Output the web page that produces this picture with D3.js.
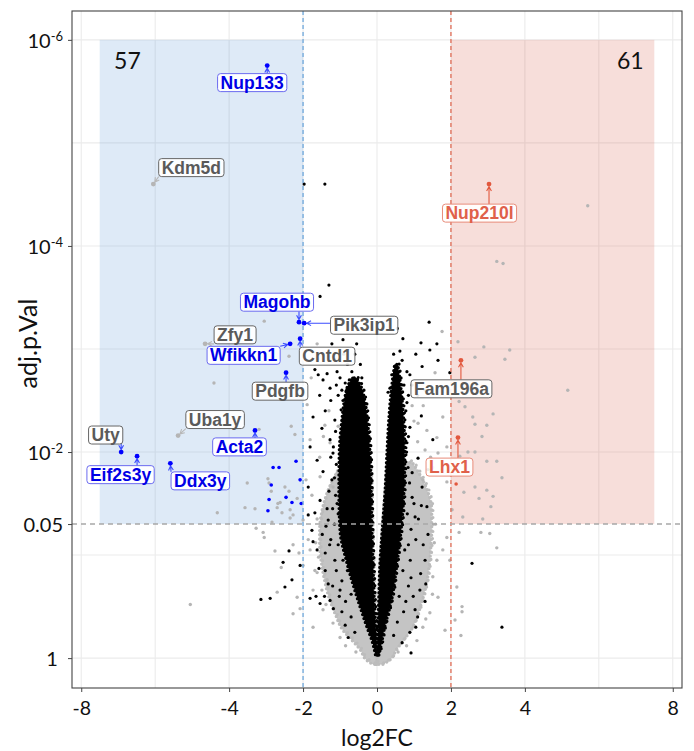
<!DOCTYPE html>
<html>
<head>
<meta charset="utf-8">
<script src="https://cdn.jsdelivr.net/npm/d3@7"></script>
<style>
  body { margin: 0; background: #fff; }
  svg { display: block; }
</style>
</head>
<body>
<svg id="chart" width="694" height="751"></svg>
<script>
// ---------------------------------------------------------------
// Volcano plot: log2 fold change vs adjusted p-value (-log10 axis)
// Values below are log2FC and -log10(adj.p.Val)
// ---------------------------------------------------------------

// significance thresholds and shaded regions
const fcCut = 2;
const pCutNLP = 1.301;          // -log10(0.05)
const shadeFC = 7.5;
const shadeTopNLP = 6;          // -log10(1e-6)
const downCount = "57";
const upCount = "61";

// axis ticks
const xTickValues = [-8, -4, -2, 0, 2, 4, 8];
const xGridValues = [-8, -6, -4, -2, 0, 2, 4, 6, 8];
const yTickValues = [0, 1.301, 2, 4, 6];
const yTickBase = ["1\u00a0", "0.05", "10", "10", "10"];
const yTickExp = ["", "", "-2", "-4", "-6"];
const yGridValues = [0, 1, 2, 3, 4, 5, 6];

// dense core of the distribution (bounds of log2FC per -log10 p level)
const armLeftNLP = [0.03, 0.175, 0.27, 0.59, 0.92, 1.24, 1.63, 1.99, 2.31, 2.50, 2.65, 2.72];
const armLeftOut = [-0.04, -0.14, -0.24, -0.54, -0.81, -1.00, -1.03, -1.02, -0.95, -0.88, -0.78, -0.66];
const armLeftIn  = [0.00, -0.01, -0.03, -0.08, -0.11, -0.14, -0.16, -0.19, -0.26, -0.33, -0.45, -0.56];

const armRightNLP = [0.03, 0.175, 0.27, 0.59, 0.92, 1.24, 1.63, 1.99, 2.31, 2.50, 2.70, 2.85];
const armRightIn  = [0.01, 0.03, 0.03, 0.05, 0.08, 0.14, 0.22, 0.27, 0.32, 0.36, 0.42, 0.48];
const armRightOut = [0.05, 0.14, 0.19, 0.41, 0.54, 0.65, 0.73, 0.75, 0.72, 0.68, 0.62, 0.56];

const fanNLP      = [-0.06, -0.02, 0.08, 0.175, 0.27, 0.42, 0.59, 0.76, 0.92, 1.10, 1.24, 1.44, 1.63, 1.78, 1.90];
const fanLeftOut  = [-0.12, -0.28, -0.45, -0.68, -0.92, -1.12, -1.30, -1.42, -1.50, -1.55, -1.55, -1.48, -1.32, -1.12, -0.95];
const fanLeftIn   = [0.00, 0.00, -0.01, -0.02, -0.04, -0.06, -0.08, -0.10, -0.11, -0.13, -0.14, -0.15, -0.16, -0.18, -0.20];
const fanRightIn  = [0.00, 0.00, 0.01, 0.02, 0.03, 0.04, 0.05, 0.07, 0.08, 0.11, 0.14, 0.18, 0.22, 0.25, 0.27];
const fanRightOut = [0.16, 0.34, 0.52, 0.72, 0.92, 1.10, 1.25, 1.36, 1.42, 1.46, 1.48, 1.48, 1.36, 1.16, 0.95];

// individual genes outside the dense core: [log2FC, -log10 adj.p]
const greyPts = [
  [5.70,4.39],[3.24,3.85],[3.41,3.83],[1.76,3.17],[2.19,3.07],[2.89,3.02],[3.59,2.99],[2.65,2.92],
  [3.46,2.90],[5.16,2.60],[2.22,2.49],[2.38,2.44],[3.14,2.37],[2.59,2.34],[2.65,2.27],[2.97,2.26],
  [2.84,2.15],[2.46,2.00],[2.65,2.00],[2.24,1.96],[3.24,1.91],[2.97,1.91],[3.38,1.75],[2.65,1.66],
  [2.97,1.63],[2.35,1.61],[3.14,1.57],[2.76,1.55],[3.08,1.47],[2.32,1.37],[2.86,1.35],[2.81,1.22],
  [3.05,1.21],[2.22,1.22],[3.24,1.07],[2.30,0.50],[2.30,0.45],[2.27,0.22],[2.11,0.37],[1.57,2.77],
  [-3.05,3.27],[-4.41,2.67],[-2.38,2.93],[-3.19,2.22],[-2.32,2.25],[-2.22,2.17],[-3.51,1.70],
  [-2.95,1.74],[-2.92,1.70],[-2.86,1.62],[-2.49,1.66],[-2.38,1.62],[-4.32,1.41],[-3.57,1.46],
  [-3.30,1.45],[-2.68,1.50],[-2.57,1.41],[-2.27,1.39],[-2.35,1.36],[-2.62,1.51],[-2.16,1.55],
  [-2.35,1.44],[-2.70,1.46],[-2.84,1.32],[-3.08,1.22],[-3.27,1.26],[-3.05,1.17],[-2.76,1.04],
  [-2.27,1.10],[-2.59,0.88],[-2.00,0.90],[-2.70,0.64],[-2.16,0.59],[-5.05,0.52],[-2.08,0.48],
  [-2.27,0.43],[-2.11,1.02],[-1.86,1.15],[-1.73,0.66],[-1.62,0.83],[-1.35,0.76],[-1.78,2.72],
  [-1.89,2.46],[-1.62,3.05],[-1.81,2.12],[-1.41,2.26],[-1.27,2.09],[-1.54,1.76],[-1.76,1.58],
  [-1.19,1.66],[1.11,2.28],[1.35,2.21],[1.62,2.14],[1.78,2.34],[1.30,2.02],[1.65,1.99],[1.89,2.05],
  [1.51,1.85],[1.76,1.83],[1.24,1.73],[1.89,1.71],[-1.81,1.05],[-1.68,0.85],[-1.49,0.66],
  [-1.46,0.47],[-1.19,0.34],[-1.00,0.20],[-1.73,0.30],[1.62,0.95],[1.51,0.79],[1.65,0.59],
  [1.43,0.44],[1.24,0.30],[1.08,0.17],[1.89,1.17],[1.78,1.05],[2.16,0.69],[1.84,0.27],
  [-0.57,0.06],[0.57,0.06],[-2.00,1.34],[-1.92,1.73],[2.03,1.44],[1.97,0.95],
  [-1.30,2.40],[-1.45,2.15],[-1.05,2.25],[1.00,2.30],[1.10,2.10],[0.95,2.45],[1.25,2.45],
  [-1.55,1.95],[1.45,1.95],[-1.62,1.35],[-1.66,1.12],[1.58,1.30],[1.55,1.12],[-1.58,0.98],
  [1.50,0.62],[-1.38,0.52],[1.32,0.38],[-0.85,0.12],[0.80,0.12]
];

const blackPts = [
  [-1.97,4.60],[-1.41,4.60],[-1.30,3.62],[-1.54,3.51],[-0.92,3.09],[-1.22,3.05],[1.41,3.26],
  [0.62,2.98],[1.19,3.06],[1.62,3.05],[1.43,2.99],[1.65,2.89],[1.97,2.77],[0.81,2.78],[0.89,2.75],
  [1.22,2.83],[-1.68,2.80],[-1.59,2.75],[-1.35,2.76],[-1.46,2.70],[-1.27,2.62],[-1.08,2.78],
  [-1.00,2.72],[-0.81,2.61],[-0.73,2.53],[-0.92,2.50],[0.62,2.60],[0.54,2.53],[0.81,2.48],
  [0.43,2.49],[-2.38,1.04],[-2.54,0.93],[-2.30,0.76],[-2.49,0.69],[-2.89,0.58],[-3.14,0.57],
  [-1.73,1.13],[-1.62,1.05],[-1.81,0.58],[-1.65,0.60],[-1.54,0.53],[-1.57,0.87],[-1.86,1.39],
  [3.38,0.30],[2.57,0.92],[-2.08,0.90],[-1.73,2.34],[-1.49,2.23],[-1.81,2.05],[-1.27,2.12],
  [-1.62,1.92],[-1.19,1.99],[-1.46,1.81],[-1.86,1.66],[-1.22,1.73],[-1.54,1.53],[-1.08,1.50],
  [-1.68,1.41],[-1.32,1.34],[-1.76,1.24],[0.62,2.34],[0.89,2.24],[0.81,2.09],[1.11,1.94],
  [0.84,1.85],[1.22,1.66],[0.95,1.56],[1.35,1.47],[1.03,1.37],[1.51,2.12],[1.38,1.83],
  [0.49,2.70],[0.30,2.58],[0.73,2.65],[0.68,2.89],[0.51,2.80],[-0.86,2.67],[-0.68,2.78],
  [-0.57,2.70],[-1.05,2.55],[-0.97,2.41],[-1.14,2.31],[-0.41,2.72],[-1.27,0.56],[-1.00,0.66],
  [1.16,0.66],[1.30,0.95],[1.03,0.47],[-1.14,0.95],[-0.86,0.32],[0.89,0.25],[0.92,0.05],
  [-1.12,2.20],[-1.18,2.05],[-1.10,1.88],[-1.25,1.95],[-1.15,1.75],[-1.30,1.62],[-1.12,1.58],
  [-1.20,1.45],[-1.38,1.28],[-1.15,1.30],[-1.25,1.15],[-1.05,1.10],[-1.40,1.02],[-1.10,0.85],
  [-0.95,0.75],[-1.20,0.70],[-0.85,0.55],[-0.70,0.40],[-0.95,0.45],[-0.60,0.25],
  [0.85,2.15],[0.80,2.00],[0.95,1.80],[0.88,1.70],[1.00,1.50],[0.82,1.40],[0.92,1.25],
  [1.05,1.15],[0.75,1.05],[0.90,0.95],[0.70,0.85],[0.85,0.70],[0.60,0.60],[0.72,0.45],
  [0.55,0.35],[0.45,0.22],[-0.85,2.45],[-0.62,2.62],[-0.50,2.58],[-0.75,2.70],[-0.95,2.60],
  [-0.45,2.85],[-0.60,2.95],[0.40,2.75],[0.58,2.72],[0.45,2.95],[0.62,2.55],[0.78,2.40],[0.35,2.62],
  [-1.35,1.45],[-1.28,1.10],[-1.40,0.85],[-1.02,0.60],[-1.18,0.48],[-0.78,0.20],[-1.32,0.72],
  [-0.92,0.95],[-1.48,1.20],[-0.88,1.25],[-1.05,1.40],[-1.42,0.60],[-0.70,0.62],[-0.80,0.85],
  [1.12,1.35],[1.25,1.10],[1.18,0.82],[0.98,0.60],[1.10,0.40],[0.68,0.15],[1.30,0.55],
  [0.92,0.78],[1.38,1.20],[0.85,1.10],[1.20,1.48],[1.32,0.72],[0.78,0.55],[1.05,0.30],
  [-1.45,2.95],[-1.15,2.90],[-0.80,2.85],[-1.25,2.50],[-1.55,2.55],[-0.65,2.40],[-1.40,2.40],
  [-0.55,3.05],[-1.10,2.65],[-0.90,2.95],[0.95,2.65],[1.10,2.55],[0.70,3.10],[1.05,2.95],
  [0.55,3.20],[1.30,2.60],[0.85,2.55],[1.20,2.35]
];

const bluePts = [
  [-2.19,1.91],[-2.81,1.85],[-2.65,1.85],[-2.08,1.73],[-2.86,1.68],[-2.46,1.56],[-2.92,1.54],
  [-2.30,1.51],[-2.05,1.50],[-2.95,1.43]
];

const redPts = [[2.14,1.69]];

// labelled genes
const geneNames = ["Nup133","Kdm5d","Nup210l","Magohb","Pik3ip1","Zfy1","Wfikkn1","Cntd1",
                   "Pdgfb","Fam196a","Uba1y","Acta2","Uty","Eif2s3y","Ddx3y","Lhx1"];
const geneFC  = [-2.97,-6.05, 3.03,-2.11,-1.97,-4.65,-2.35,-2.08,-2.46, 2.27,-5.38,-3.30,-6.92,-6.49,-5.59, 2.19];
const geneNLP = [ 5.75, 4.60, 4.60, 3.26, 3.25, 3.05, 3.05, 3.10, 2.77, 2.89, 2.16, 2.21, 2.00, 1.96, 1.89, 2.14];
const geneMark = ["down","grey","up","down","down","grey","down","down","down","up","grey","down","down","down","down","up"];
const geneText = ["down","grey","up","down","grey","grey","down","grey","grey","grey","grey","down","grey","down","down","up"];

// label placement (pixel nudges of the label centre from its gene)
const labelNudge = [[-15,17],[38,-16.5],[-9.5,29],[-22,-20],[60,2],[30,-9],[-46.5,11.5],[27,17.5],
                    [-6,18.5],[-9.5,28.5],[37,-16],[-15.5,16.5],[-15.5,-17],[-16.5,18.5],[30,17.5],[-8.5,29.5]];

// ---------------------------------------------------------------
const panel = { left: 72, right: 682, top: 11, bottom: 688 };

const markColor = { grey: "#b5b5b5", black: "#000000", down: "#0000ff", up: "#e2583e" };
const textColor = { down: "#0000e6", grey: "#5a5a5a", up: "#e0604a" };
const boxStroke = { down: "#6b6bf0", grey: "#666666", up: "#e88c7a" };
const segColor  = { down: "#3b4cff", grey: "#b8b8b8", up: "#e2583e" };

const svg = d3.select("#chart");

const x = d3.scaleLinear().domain([-8.25, 8.25]).range([panel.left, panel.right]);
const y = d3.scaleLinear().domain([-0.29, 6.28]).range([panel.bottom, panel.top]);

const clipId = "panel-clip";
svg.append("defs").append("clipPath").attr("id", clipId)
  .append("rect")
  .attr("x", panel.left).attr("y", panel.top)
  .attr("width", panel.right - panel.left).attr("height", panel.bottom - panel.top);

// grid
const grid = svg.append("g").attr("clip-path", `url(#${clipId})`);
grid.selectAll("line.vg").data(xGridValues).join("line")
  .attr("class", "vg")
  .attr("x1", d => x(d)).attr("x2", d => x(d))
  .attr("y1", panel.top).attr("y2", panel.bottom)
  .attr("stroke", "#ebebeb").attr("stroke-width", 1.1);
grid.selectAll("line.hg").data(yGridValues).join("line")
  .attr("class", "hg")
  .attr("x1", panel.left).attr("x2", panel.right)
  .attr("y1", d => y(d)).attr("y2", d => y(d))
  .attr("stroke", "#ebebeb").attr("stroke-width", 1.1);

// shaded significance regions
svg.append("rect")
  .attr("x", x(-shadeFC)).attr("y", y(shadeTopNLP))
  .attr("width", x(-fcCut) - x(-shadeFC)).attr("height", y(pCutNLP) - y(shadeTopNLP))
  .attr("fill", "#5a96d7").attr("fill-opacity", 0.2);
svg.append("rect")
  .attr("x", x(fcCut)).attr("y", y(shadeTopNLP))
  .attr("width", x(shadeFC) - x(fcCut)).attr("height", y(pCutNLP) - y(shadeTopNLP))
  .attr("fill", "#d85a46").attr("fill-opacity", 0.2);

const plot = svg.append("g").attr("clip-path", `url(#${clipId})`);

// dense core drawn as bands with a beaded edge so the rim reads as single genes
function band(levels, lo, hi) {
  return d3.area()
    .y((d, i) => y(levels[i]))
    .x0((d, i) => x(lo[i]))
    .x1((d, i) => x(hi[i]))
    .curve(d3.curveMonotoneY)(levels);
}
function core(levels, lo, hi, fill, bead) {
  const d = band(levels, lo, hi);
  plot.append("path").attr("d", d).attr("fill", fill);
  plot.append("path").attr("d", d)
    .attr("fill", "none").attr("stroke", bead).attr("stroke-width", 3.4)
    .attr("stroke-linecap", "round").attr("stroke-dasharray", "0 4.2");
  plot.append("path").attr("d", d)
    .attr("fill", "none").attr("stroke", bead).attr("stroke-width", 3.2)
    .attr("stroke-linecap", "round").attr("stroke-dasharray", "0 7").attr("stroke-dashoffset", 2)
    .attr("transform", "translate(1.2,-1.5)");
}

core(fanNLP, fanLeftOut, fanLeftIn, "#c4c4c4", "#bcbcbc");
core(fanNLP, fanRightIn, fanRightOut, "#c4c4c4", "#bcbcbc");

function dots(data, color, r) {
  plot.append("g").selectAll("circle").data(data).join("circle")
    .attr("cx", d => x(d[0])).attr("cy", d => y(d[1]))
    .attr("r", r).attr("fill", color);
}
dots(greyPts, markColor.grey, 1.7);

core(armLeftNLP, armLeftOut, armLeftIn, "#000", "#000");
core(armRightNLP, armRightIn, armRightOut, "#000", "#000");

dots(blackPts, markColor.black, 1.6);
dots(bluePts, markColor.down, 1.8);
dots(redPts, markColor.up, 1.8);

// threshold lines
svg.append("line")
  .attr("x1", x(-fcCut)).attr("x2", x(-fcCut)).attr("y1", panel.top).attr("y2", panel.bottom)
  .attr("stroke", "#6fa8dc").attr("stroke-width", 1.3).attr("stroke-dasharray", "4,3");
svg.append("line")
  .attr("x1", x(fcCut)).attr("x2", x(fcCut)).attr("y1", panel.top).attr("y2", panel.bottom)
  .attr("stroke", "#e06c55").attr("stroke-width", 1.3).attr("stroke-dasharray", "4,3");
svg.append("line")
  .attr("x1", panel.left).attr("x2", panel.right).attr("y1", y(pCutNLP)).attr("y2", y(pCutNLP))
  .attr("stroke", "#a8a8a8").attr("stroke-width", 1.5).attr("stroke-dasharray", "5,4");

// labelled genes: points, connectors and boxed labels
const lab = svg.append("g");
const genes = geneNames.map((name, i) => ({
  name, fc: geneFC[i], nlp: geneNLP[i], mark: geneMark[i], tone: geneText[i], nudge: labelNudge[i]
}));

genes.forEach(g => {
  const px = x(g.fc), py = y(g.nlp);
  const cx = px + g.nudge[0], cy = py + g.nudge[1];
  const t = lab.append("text")
    .attr("x", cx).attr("y", cy + 6)
    .attr("text-anchor", "middle")
    .attr("font-family", "'Liberation Sans', Arial, sans-serif")
    .attr("font-weight", "bold").attr("font-size", 17.5)
    .attr("fill", textColor[g.tone])
    .text(g.name);
  const w = t.node().getComputedTextLength();
  const bx0 = cx - w / 2 - 3, bx1 = cx + w / 2 + 3;
  const by0 = cy - 9, by1 = cy + 9;
  lab.insert("rect", "text")
    .attr("x", bx0).attr("y", by0).attr("width", bx1 - bx0).attr("height", by1 - by0)
    .attr("rx", 3).attr("fill", "#fff").attr("fill-opacity", 0.92)
    .attr("stroke", boxStroke[g.tone]).attr("stroke-width", 1);

  // connector from box edge to the gene with a small arrow head
  const sx = Math.max(bx0, Math.min(bx1, px));
  const sy = Math.max(by0, Math.min(by1, py));
  const dx = px - sx, dy = py - sy;
  const len = Math.hypot(dx, dy);
  if (len > 4) {
    const ux = dx / len, uy = dy / len;
    const ex = px - ux * 2.5, ey = py - uy * 2.5;
    const a = 0.5, hl = 5;
    const h1x = ex - hl * (ux * Math.cos(a) - uy * Math.sin(a));
    const h1y = ey - hl * (uy * Math.cos(a) + ux * Math.sin(a));
    const h2x = ex - hl * (ux * Math.cos(-a) - uy * Math.sin(-a));
    const h2y = ey - hl * (uy * Math.cos(-a) + ux * Math.sin(-a));
    lab.insert("path", "rect")
      .attr("d", `M${sx},${sy}L${ex},${ey}M${h1x},${h1y}L${ex},${ey}L${h2x},${h2y}`)
      .attr("fill", "none").attr("stroke", segColor[g.mark]).attr("stroke-width", 1.1);
  }
  lab.append("circle").attr("cx", px).attr("cy", py).attr("r", 2.4).attr("fill", markColor[g.mark]);
});

// gene counts in the shaded regions
svg.append("text").attr("x", x(-6.75)).attr("y", y(5.79) + 8)
  .attr("text-anchor", "middle").attr("font-family", "Lato, 'Open Sans', sans-serif")
  .attr("font-size", 23).attr("fill", "#111").text(downCount);
svg.append("text").attr("x", x(6.85)).attr("y", y(5.79) + 8)
  .attr("text-anchor", "middle").attr("font-family", "Lato, 'Open Sans', sans-serif")
  .attr("font-size", 23).attr("fill", "#111").text(upCount);

// panel border
svg.append("rect")
  .attr("x", panel.left).attr("y", panel.top)
  .attr("width", panel.right - panel.left).attr("height", panel.bottom - panel.top)
  .attr("fill", "none").attr("stroke", "#444").attr("stroke-width", 1.1);

// axes
const axisFont = "Lato, 'Open Sans', sans-serif";
const xAxis = svg.append("g")
  .attr("transform", `translate(0,${panel.bottom})`)
  .call(d3.axisBottom(x).tickValues(xTickValues).tickSize(4).tickSizeOuter(0).tickFormat(d3.format("d")));
xAxis.select(".domain").remove();
xAxis.selectAll(".tick line").attr("stroke", "#444");
xAxis.selectAll(".tick text")
  .attr("font-family", axisFont).attr("font-size", 19.5).attr("fill", "#111").attr("dy", "1.05em")
  .text(d => d < 0 ? "-" + Math.abs(d) : String(d));

const yAxis = svg.append("g")
  .attr("transform", `translate(${panel.left},0)`)
  .call(d3.axisLeft(y).tickValues(yTickValues).tickSize(4).tickSizeOuter(0).tickFormat(""));
yAxis.select(".domain").remove();
yAxis.selectAll(".tick line").attr("stroke", "#444");
yAxis.selectAll(".tick text").each(function (d, i) {
  const t = d3.select(this)
    .attr("font-family", axisFont).attr("font-size", 20).attr("fill", "#111")
    .attr("x", -9).attr("dy", "0.36em").attr("text-anchor", "end");
  t.text(null);
  t.append("tspan").text(yTickBase[i]);
  if (yTickExp[i]) {
    t.append("tspan").attr("dy", "-0.5em").attr("font-size", 13).text(yTickExp[i]);
  }
});

// axis titles
svg.append("text").attr("x", (panel.left + panel.right) / 2).attr("y", 746)
  .attr("text-anchor", "middle").attr("font-family", axisFont).attr("font-size", 23)
  .attr("fill", "#111").text("log2FC");
svg.append("text")
  .attr("transform", `translate(37,${(panel.top + panel.bottom) / 2 - 6}) rotate(-90)`)
  .attr("text-anchor", "middle").attr("font-family", axisFont).attr("font-size", 25)
  .attr("fill", "#111").text("adj.p.Val");
</script>
</body>
</html>
